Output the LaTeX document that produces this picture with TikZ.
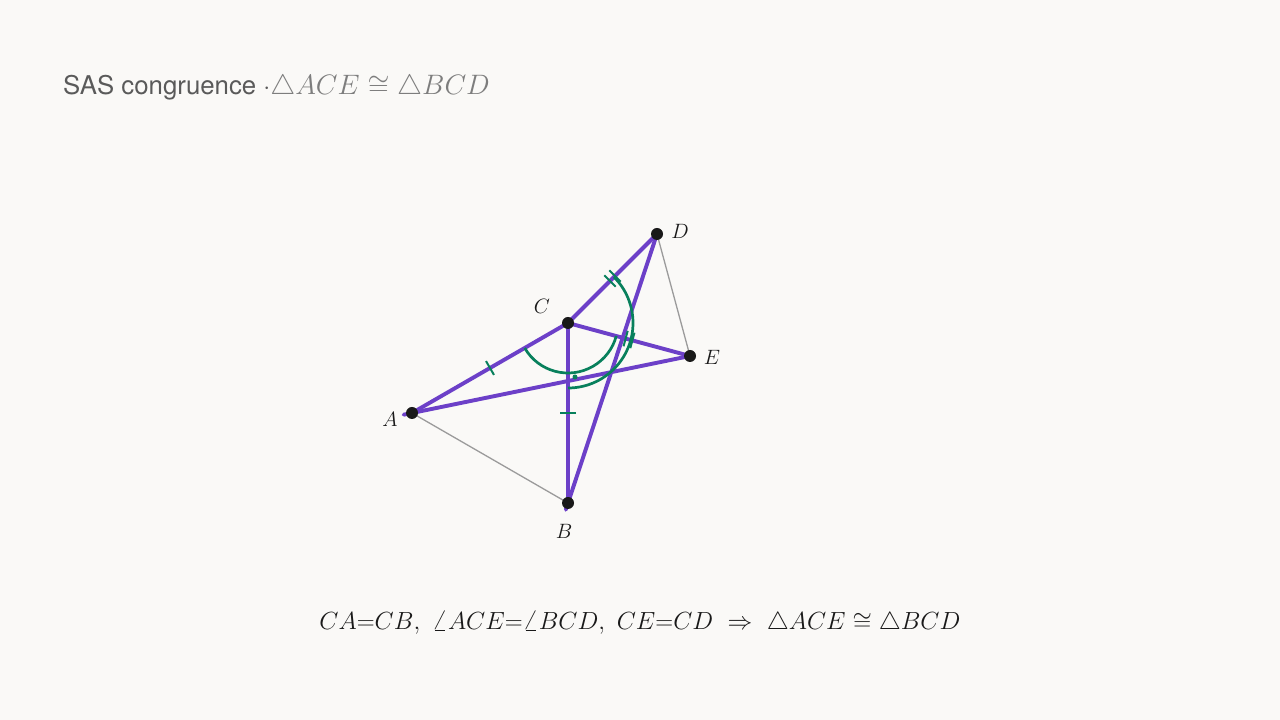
\documentclass[tikz,border=0pt]{standalone}
\usepackage{graphicx}
\usepackage{fontspec}
\setsansfont{TeX Gyre Heros}
\usetikzlibrary{calc}
\definecolor{bg}{RGB}{250,249,247}
\definecolor{purp}{RGB}{108,64,200}
\definecolor{grn}{RGB}{8,128,92}
\definecolor{gry}{RGB}{155,155,155}
\definecolor{ttl}{RGB}{90,90,90}
\definecolor{ttlm}{RGB}{125,125,125}
\definecolor{ink}{RGB}{25,25,25}
\tikzset{
  seg/.style={draw=purp,line width=3.9pt,line cap=round},
  thin/.style={draw=gry,line width=1.3pt},
  arcmark/.style={draw=grn,line width=2.7pt},
  tickmark/.style={draw=grn,line width=2pt},
  pt/.style={circle,fill=ink,inner sep=0pt,minimum size=12pt},
  lbl/.style={font=\fontsize{20.74}{24}\selectfont,text=ink,inner sep=0pt}
}
\begin{document}
\begin{tikzpicture}[x=1pt,y=1pt]
\fill[bg] (0,0) rectangle (1280,720);
\useasboundingbox (0,0) rectangle (1280,720);
% points (pixel y flipped)
\coordinate (A) at (412,307);
\coordinate (B) at (568,217);
\coordinate (C) at (568,397);
\coordinate (D) at (657,486);
\coordinate (E) at (690,364);
% thin grey sides
\draw[thin] (A) -- (B);
\draw[thin] (D) -- (E);
% purple segments
\draw[seg] (C) -- (A);
\draw[seg] (C) -- (B);
\draw[seg] (C) -- (E);
\draw[seg] (C) -- (D);
\draw[seg] ($(E)!1.03!(A)$) -- (A) -- (E);
\draw[seg] ($(D)!1.025!(B)$) -- (B) -- (D) -- ($(B)!1.012!(D)$);
% angle arcs
\draw[arcmark] ($(C)+(210:50)$) arc[start angle=210,end angle=345,radius=50];
\draw[arcmark] ($(C)+(270:65)$) arc[start angle=270,end angle=405,radius=65];
\fill[grn] (575,343) circle (2.5);
% tick marks CA, CB
\coordinate (mCA) at ($(C)!0.5!(A)$);
\coordinate (mCB) at ($(C)!0.5!(B)$);
\draw[tickmark] ($(mCA)!8pt!90:(A)$) -- ($(mCA)!8pt!-90:(A)$);
\draw[tickmark] ($(mCB)!8pt!90:(B)$) -- ($(mCB)!8pt!-90:(B)$);
% double ticks CE, CD
\foreach \P in {D,E}{
  \coordinate (m1) at ($(C)!0.5!(\P)!3.5pt!(\P)$);
  \coordinate (m2) at ($(C)!0.5!(\P)!-3.5pt!(\P)$);
  \draw[tickmark] ($(m1)!8pt!90:(\P)$) -- ($(m1)!8pt!-90:(\P)$);
  \draw[tickmark] ($(m2)!8pt!90:(\P)$) -- ($(m2)!8pt!-90:(\P)$);
}
% points
\foreach \P in {A,B,C,D,E} \node[pt] (n\P) at (\P) {};
% labels
\node[lbl] (lA) at (390,301) {$A$};
\node[lbl] (lB) at (564,189) {$B$};
\node[lbl] (lC) at (542,414) {$C$};
\node[lbl] (lD) at (680,489) {$D$};
\node[lbl] (lE) at (712,363) {$E$};
% title
\node[anchor=west,inner sep=0pt,text=ttl] (title) at (63,632)
  {\fontsize{25.8}{30}\selectfont\sffamily SAS congruence $\cdot$\textcolor{ttlm}{\fontsize{24.88}{30}\selectfont\scalebox{1.13}{$\triangle ACE\cong\triangle BCD$}}};
% bottom formula
\node[inner sep=0pt,text=ink] (formula) at (640,97)
  {\fontsize{24.88}{28}\selectfont\scalebox{0.997}{$CA{=}CB,\ \angle ACE{=}\angle BCD,\ CE{=}CD\ \Rightarrow\ \triangle ACE\cong\triangle BCD$}};
\end{tikzpicture}
\end{document}
